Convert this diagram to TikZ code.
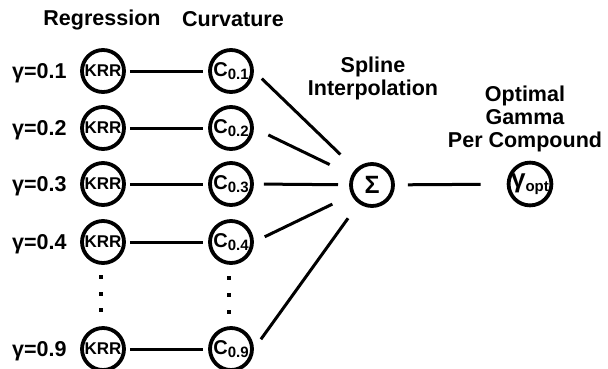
\documentclass[tikz,border=0pt]{standalone}
\usepackage{fontspec}
\setmainfont{Liberation Sans}
\usepackage{tikz}
\usetikzlibrary{positioning}

\newcommand{\sublbl}[2]{#1\raisebox{-3.5pt}{\fontsize{15}{15}\selectfont #2}}

\tikzset{
	unit/.style={circle, draw, line width=3.8pt, minimum size=42pt, inner sep=0pt},
	link/.style={line width=3pt},
	lbl/.style={font=\bfseries\fontsize{21.5}{23}\selectfont}
}

\begin{document}
\begin{tikzpicture}[x=1pt, y=-1pt]
			\useasboundingbox (0,0) rectangle (608,368);
			
			% Headers
			\node[lbl, anchor=base] (hr) at (102,25) {Regression};
			\node[lbl, anchor=base] (hc) at (233,26) {Curvature};
			\node[lbl, align=center, anchor=base] (hs) at (373,95) {Spline\\Interpolation};
			\node[lbl, align=center, anchor=base] (ho) at (525,147) {Optimal\\Gamma\\Per Compound};
			
			% Gamma values
			\node[lbl, anchor=base east] (g1) at (70,78) {γ=0.1};
			\node[lbl, anchor=base east] (g2) at (70,135) {γ=0.2};
			\node[lbl, anchor=base east] (g3) at (70,191) {γ=0.3};
			\node[lbl, anchor=base east] (g4) at (70,249) {γ=0.4};
			\node[lbl, anchor=base east] (g9) at (70,356) {γ=0.9};
			
			% KRR units
			\node[unit, font=\bfseries\fontsize{17}{17}\selectfont] (k1) at (103,71) {KRR};
			\node[unit, font=\bfseries\fontsize{17}{17}\selectfont] (k2) at (103,128) {KRR};
			\node[unit, font=\bfseries\fontsize{17}{17}\selectfont] (k3) at (103,184) {KRR};
			\node[unit, font=\bfseries\fontsize{17}{17}\selectfont] (k4) at (103,242) {KRR};
			\node[unit, font=\bfseries\fontsize{17}{17}\selectfont] (k9) at (103,349) {KRR};
			
			% Curvature units
			\node[unit, font=\bfseries\fontsize{20}{20}\selectfont] (c1) at (231,71) {\sublbl{C}{0.1}};
			\node[unit, font=\bfseries\fontsize{20}{20}\selectfont] (c2) at (231,128) {\sublbl{C}{0.2}};
			\node[unit, font=\bfseries\fontsize{20}{20}\selectfont] (c3) at (231,184) {\sublbl{C}{0.3}};
			\node[unit, font=\bfseries\fontsize{20}{20}\selectfont] (c4) at (231,242) {\sublbl{C}{0.4}};
			\node[unit, font=\bfseries\fontsize{20}{20}\selectfont] (c9) at (231,349) {\sublbl{C}{0.9}};
			
			% Spline and result
			\node[unit, font=\bfseries\fontsize{25}{25}\selectfont] (s) at (372,185) {Σ};
			\node[unit, font=\bfseries\fontsize{26}{26}\selectfont] (o) at (530,184) {\sublbl{γ}{opt}};
			
			% Draw connections
			\draw[link, shorten <=4pt, shorten >=5pt] (k1) -- (c1);
			\draw[link, shorten <=4pt, shorten >=5pt] (k2) -- (c2);
			\draw[link, shorten <=4pt, shorten >=5pt] (k3) -- (c3);
			\draw[link, shorten <=4pt, shorten >=5pt] (k4) -- (c4);
			\draw[link, shorten <=4pt, shorten >=5pt] (k9) -- (c9);
			\draw[link, shorten <=11pt, shorten >=44pt] (c1.east) -- (s.center);
			\draw[link, shorten <=16pt, shorten >=47pt] (c2.east) -- (s.center);
			\draw[link, shorten <=10pt, shorten >=34pt] (c3.east) -- (s.center);
			\draw[link, shorten <=12pt, shorten >=44pt] (c4.east) -- (s.center);
			\draw[link, shorten <=12pt, shorten >=41pt] (c9.east) -- (s.center);
			\draw[link, shorten <=13pt, shorten >=26pt] (s) -- (o);
			
			% Dots
			\fill (99,275) rectangle ++(4,4);
			\fill (99,292) rectangle ++(4,4);
			\fill (99,308) rectangle ++(4,4);
			\fill (227,276) rectangle ++(4,4);
			\fill (227,293) rectangle ++(4,4);
			\fill (227,310) rectangle ++(4,4);
		\end{tikzpicture}
\end{document}
